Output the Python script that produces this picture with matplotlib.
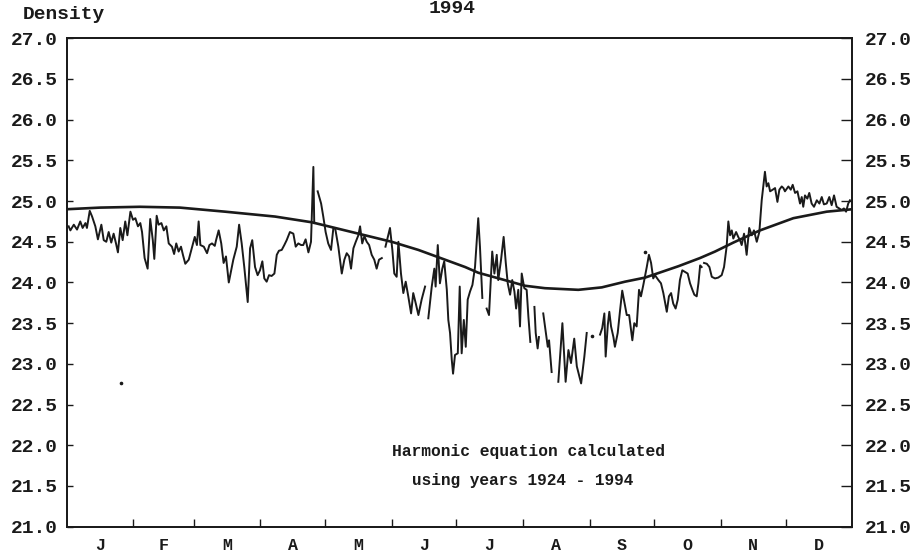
import matplotlib
matplotlib.use("Agg")
import matplotlib.pyplot as plt
import numpy as np

nan = np.nan

# daily density 1994 (day of year), nan = gap in record
day = [0.9, 1.7, 3.3, 4.8, 6.3, 7.4, 8.7, 9.4, 10.7, 11.8, 13.3, 14.5, 16.1, 17.2, 18.4,
       19.5, 20.7, 21.8, 22.9, 23.8, 24.9, 26.0, 27.2, 28.2, 29.6, 30.8, 31.9, 33.1, 34.2,
       35.0, 36.2, 37.6, 38.8, 40.0, 40.7, 41.8, 42.7, 44.0, 45.1, 46.3, 47.4, 48.9, 49.9,
       50.9, 52.0, 53.1, 54.0, 55.1, 56.7, 58.2, 59.5, 60.5, 61.3, 62.1, 63.7, 65.2, 66.3,
       67.5, 68.8, 69.4, 70.6, 71.8, 72.9, 74.0, 75.3, 77.4, 79.0, 80.1, 81.3, 82.5, 84.1,
       85.2, 86.2, 87.5, 88.7, 89.8, 90.9, 91.8, 92.9, 94.0, 95.2, 96.5, 97.6, 98.6, 99.9,
       101.1, 102.2, 103.7, 105.3, 106.4, 107.6, 108.9, 109.9, 111.0, 112.3, 113.5, 114.6,
       115.0, nan,
       116.6, 118.2, 119.2, 120.3, 121.5, 122.8, 123.9, 124.7, 126.2, 127.8, 129.0, 130.1,
       131.2, 132.1, 133.2, 134.3, 135.5, 136.3, 137.3, 138.3, 139.4, 140.5, 141.7, 142.9,
       144.0, 145.1, 146.4, nan,
       148.1, 150.2, 151.3, 152.2, 153.3, 154.1, 155.3, 156.4, 157.5, 158.7, 160.0, 161.0,
       162.2, 163.4, 164.9, 166.5, nan,
       168.0, 169.6, 170.8, 171.4, 172.4, 173.4, 174.5, 175.4, 176.6, 177.3, 178.1, 178.9,
       179.5, 180.4, 181.7, 182.6, 183.5, 184.5, 185.4, 186.3, 187.4, 188.5, 189.7, 191.2,
       192.0, 193.1, nan,
       195.1, 196.2, 197.7, 198.7, 199.8, 200.5, 201.8, 203.0, 204.0, 204.9, 206.0, 207.0,
       208.0, 208.8, 209.8, 210.6, 211.4, 212.6, 213.7, 214.5, 215.4, nan,
       217.3, 217.9, 218.8, 219.4, nan,
       221.4, 222.6, 223.5, 224.1, 225.3, nan,
       228.4, 230.3, 231.8, 233.1, 234.3, 235.8, 237.0, 239.0, 240.5, 241.6, nan,
       247.8, 248.8, 249.8, 250.4, 251.4, 252.1, 252.9, 254.0, 254.7, 256.0, 257.1, 258.1,
       259.1, 260.2, 261.3, 262.2, 262.8, 263.7, 264.8, 265.9, 266.8, 267.9, 269.5, 270.5,
       271.5, 272.5, 273.3, 274.9, 276.1, 277.2, 278.8, 279.8, 280.8, 281.8, 282.9, 283.9,
       284.9, 286.0, 287.3, 288.5, 289.6, 290.7, 291.6, 292.7, 293.5, 294.3, 295.0, nan,
       296.1, 297.4, 298.6, 299.7, 301.2, 302.7, 304.3, 305.4, 306.6, 307.4, 308.2, 309.0,
       309.7, 311.0, 312.0, 312.8, 313.6, 314.7, 315.9, 317.1, 318.3, 319.3, 320.6, 321.8,
       322.9, 324.4, 325.2, 326.0, 326.8, 328.0, 329.1, 330.2, 331.1, 332.2, 333.0, 333.7,
       335.3, 336.4, 337.3, 338.4, 339.5, 340.7, 341.5, 342.2, 343.0, 344.1, 345.0, 346.1,
       347.2, 348.5, 349.7, 350.8, 351.8, 353.1, 354.3, 355.4, 356.5, 357.7, 358.9, 360.1,
       361.1, 362.1, 363.1, 363.9]

density = [24.69, 24.64, 24.71, 24.65, 24.75, 24.67, 24.73, 24.67, 24.88, 24.81, 24.69, 24.53,
           24.71, 24.52, 24.50, 24.62, 24.49, 24.60, 24.48, 24.37, 24.67, 24.52, 24.75, 24.58,
           24.87, 24.77, 24.79, 24.69, 24.73, 24.62, 24.30, 24.17, 24.78, 24.52, 24.29, 24.82,
           24.71, 24.73, 24.64, 24.69, 24.48, 24.44, 24.35, 24.48, 24.38, 24.44, 24.34, 24.23,
           24.28, 24.43, 24.56, 24.46, 24.75, 24.46, 24.44, 24.36, 24.46, 24.48, 24.45, 24.52,
           24.64, 24.48, 24.24, 24.32, 24.00, 24.28, 24.44, 24.71, 24.48, 24.19, 23.76, 24.42,
           24.52, 24.19, 24.09, 24.15, 24.26, 24.05, 24.01, 24.09, 24.08, 24.11, 24.34, 24.39,
           24.40, 24.46, 24.52, 24.62, 24.60, 24.44, 24.48, 24.46, 24.46, 24.53, 24.37, 24.50,
           25.42, 24.73, nan,
           25.12, 24.97, 24.81, 24.62, 24.48, 24.40, 24.67, 24.67, 24.44, 24.11, 24.28, 24.36,
           24.32, 24.17, 24.42, 24.50, 24.58, 24.69, 24.48, 24.57, 24.50, 24.46, 24.34, 24.28,
           24.17, 24.28, 24.30, nan,
           24.44, 24.67, 24.40, 24.11, 24.07, 24.50, 24.11, 23.87, 24.01, 23.83, 23.62, 23.87,
           23.74, 23.60, 23.79, 23.95, nan,
           23.56, 23.95, 24.17, 23.95, 24.46, 23.99, 24.17, 24.26, 23.91, 23.54, 23.38, 23.05,
           22.88, 23.11, 23.13, 23.95, 23.13, 23.54, 23.21, 23.79, 23.89, 23.97, 24.19, 24.79,
           24.44, 23.81, nan,
           23.68, 23.60, 24.38, 24.11, 24.34, 24.03, 24.28, 24.56, 24.24, 23.99, 23.85, 24.03,
           23.89, 23.68, 23.91, 23.46, 24.11, 23.93, 23.91, 23.58, 23.27, nan,
           23.70, 23.38, 23.19, 23.33, nan,
           23.62, 23.38, 23.21, 23.29, 22.90, nan,
           22.78, 23.50, 22.78, 23.17, 23.01, 23.31, 22.97, 22.76, 23.09, 23.38, nan,
           23.36, 23.44, 23.62, 23.09, 23.48, 23.64, 23.46, 23.33, 23.21, 23.38, 23.66, 23.90,
           23.76, 23.60, 23.60, 23.42, 23.29, 23.50, 23.46, 23.91, 23.83, 23.97, 24.19, 24.34,
           24.24, 24.05, 24.09, 24.03, 23.99, 23.87, 23.64, 23.83, 23.87, 23.74, 23.68, 23.79,
           24.03, 24.15, 24.13, 24.11, 23.99, 23.91, 23.85, 23.83, 23.99, 24.21, 24.19, nan,
           24.24, 24.23, 24.19, 24.07, 24.05, 24.06, 24.09, 24.19, 24.44, 24.75, 24.58, 24.64,
           24.54, 24.62, 24.56, 24.52, 24.46, 24.60, 24.34, 24.67, 24.58, 24.64, 24.50, 24.62,
           25.01, 25.36, 25.18, 25.22, 25.12, 25.14, 25.16, 24.99, 25.14, 25.18, 25.16, 25.12,
           25.18, 25.14, 25.20, 25.10, 25.12, 24.97, 25.05, 24.93, 25.07, 25.03, 25.10, 24.97,
           24.93, 25.01, 24.97, 25.05, 24.96, 24.97, 25.05, 24.95, 25.07, 24.93, 24.91, 24.89,
           24.91, 24.87, 24.97, 25.01]

# isolated single readings
dot_day = [25.0, 243.9, 268.7]
dot_density = [22.77, 23.34, 24.37]

# harmonic fit 1924 - 1994
harm_day = [0, 15.5, 34, 52.6, 73.6, 96.8, 113.8, 124.7, 138.6, 151, 163.4, 172.7, 185.1,
            191.2, 202.1, 212.9, 222.2, 237.7, 248.6, 259.4, 268.7, 284.2, 294.2, 301.2,
            309.7, 322.1, 337.6, 353.1, 365]
harm_density = [24.90, 24.92, 24.93, 24.92, 24.87, 24.81, 24.74, 24.67, 24.58, 24.50, 24.40,
                24.31, 24.19, 24.12, 24.04, 23.96, 23.93, 23.91, 23.94, 24.01, 24.06, 24.20,
                24.30, 24.38, 24.49, 24.64, 24.79, 24.87, 24.90]

month_starts = [31, 59, 90, 120, 151, 181, 212, 243, 273, 304, 334]
month_mids = [15.5, 45, 74.5, 105, 135.5, 166, 196.5, 227.5, 258, 288.5, 319, 349.5]
month_labels = ["J", "F", "M", "A", "M", "J", "J", "A", "S", "O", "N", "D"]
yticks = [21.0, 21.5, 22.0, 22.5, 23.0, 23.5, 24.0, 24.5, 25.0, 25.5, 26.0, 26.5, 27.0]

mono = "Liberation Mono"
ink = "#1a1a1a"

fig = plt.figure(figsize=(9.15, 5.55), dpi=100)
ax = fig.add_axes([0.0729, 0.051, 0.8586, 0.880])

ax.plot(day, density, color=ink, lw=1.4)
ax.plot(dot_day, dot_density, ls="none", marker="o", ms=1.6, color=ink)
ax.plot(harm_day, harm_density, color=ink, lw=1.9)

ax.set_xlim(0, 365)
ax.set_ylim(21, 27)

ax.set_xticks(month_starts)
ax.set_xticklabels([])
ax.set_xticks(month_mids, minor=True)
ax.set_xticklabels(month_labels, minor=True, fontfamily=mono, fontsize=12, fontweight="bold")
ax.tick_params(axis="x", which="major", direction="in", length=6, width=1, color=ink)
ax.tick_params(axis="x", which="minor", length=0, pad=8, labelcolor=ink)

ax.set_yticks(yticks)
ax.set_yticklabels(["%.1f" % v for v in yticks], fontfamily=mono, fontsize=14, fontweight="bold")
ax.tick_params(axis="y", direction="in", length=4, width=1, pad=6, color=ink, labelcolor=ink)

ax2 = ax.twinx()
ax2.set_ylim(21, 27)
ax2.set_yticks(yticks)
ax2.set_yticklabels(["%.1f" % v for v in yticks], fontfamily=mono, fontsize=14, fontweight="bold")
ax2.tick_params(axis="y", direction="in", length=8, width=1, pad=9, color=ink, labelcolor=ink)

for a in (ax, ax2):
    for s in a.spines.values():
        s.set_linewidth(1.3)
        s.set_color(ink)

fig.text(0.025, 0.973, "Density", fontfamily=mono, fontsize=14, fontweight="bold", color=ink,
         va="center", ha="left")
fig.text(0.494, 0.977, "1994", fontfamily=mono, fontsize=14, fontweight="bold", color=ink,
         va="baseline", ha="center")

fig.text(0.428, 0.186, "Harmonic equation calculated", fontfamily=mono, fontsize=11.7,
         fontweight="bold", color=ink, va="center", ha="left")
fig.text(0.450, 0.135, "using years 1924 - 1994", fontfamily=mono, fontsize=11.6,
         fontweight="bold", color=ink, va="center", ha="left")

fig.savefig("out.png", dpi=100)
